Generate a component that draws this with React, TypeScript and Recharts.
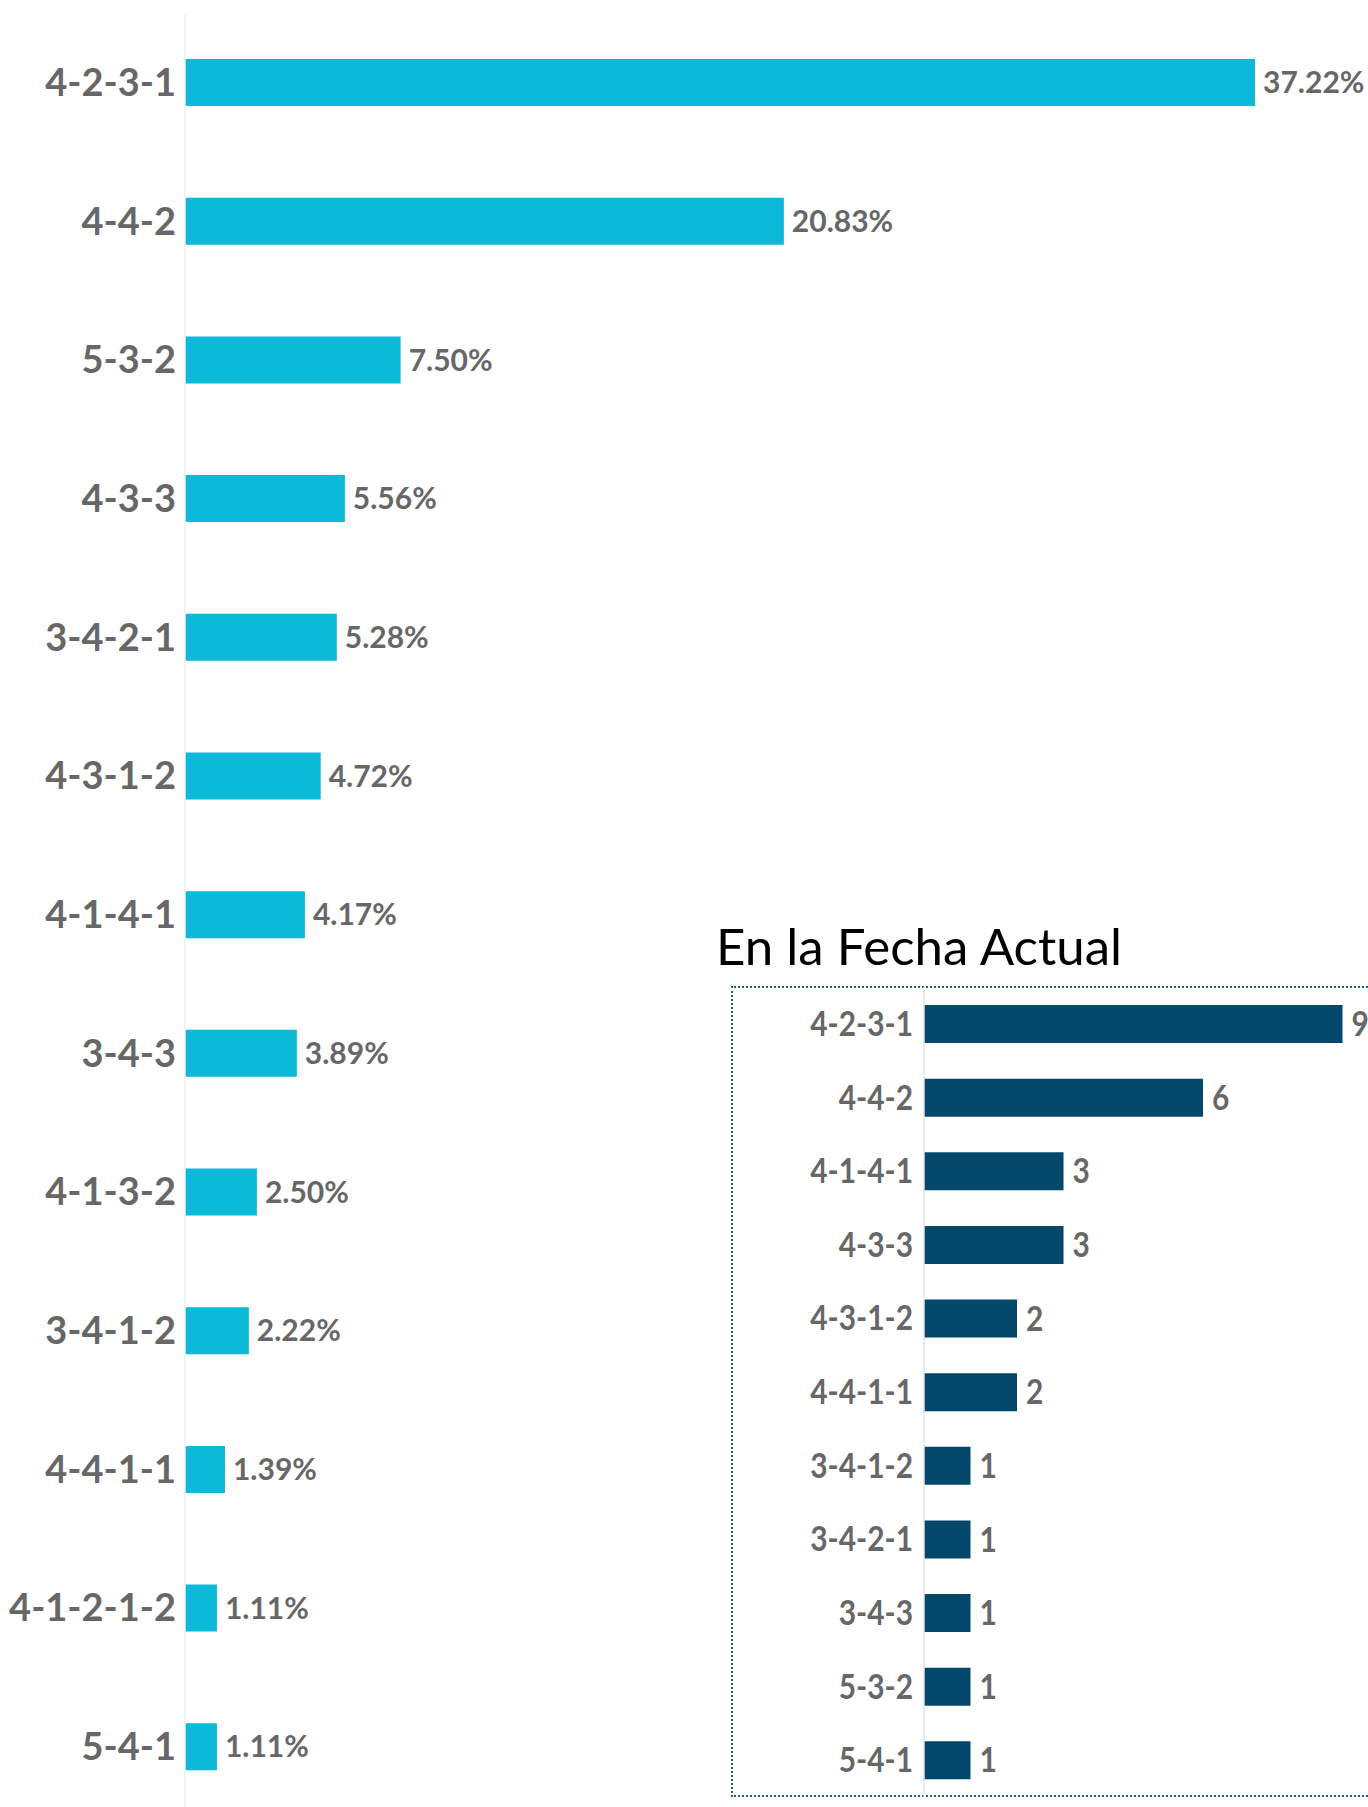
import { BarChart, Bar, XAxis, YAxis, LabelList } from 'recharts'

// formaciones más usadas (temporada) y en la fecha actual
const formaciones = ['4-2-3-1', '4-4-2', '5-3-2', '4-3-3', '3-4-2-1', '4-3-1-2', '4-1-4-1', '3-4-3', '4-1-3-2', '3-4-1-2', '4-4-1-1', '4-1-2-1-2', '5-4-1']
const porcentajes = [37.22, 20.83, 7.5, 5.56, 5.28, 4.72, 4.17, 3.89, 2.5, 2.22, 1.39, 1.11, 1.11]

const formacionesActual = ['4-2-3-1', '4-4-2', '4-1-4-1', '4-3-3', '4-3-1-2', '4-4-1-1', '3-4-1-2', '3-4-2-1', '3-4-3', '5-3-2', '5-4-1']
const equiposActual = [9, 6, 3, 3, 2, 2, 1, 1, 1, 1, 1]

const tituloInset = 'En la Fecha Actual'

const GRIS = '#676767'
const FONT = 'Lato, "Open Sans", sans-serif'

const mainData = formaciones.map((name, i) => ({ name, value: porcentajes[i] }))
const insetData = formacionesActual.map((name, i) => ({ name, value: equiposActual[i] }))

function InsetTick(props: any) {
  const { x, y, payload } = props
  return (
    <text
      transform={`translate(${x},${y}) scale(0.88,1)`}
      textAnchor="end"
      dy="0.355em"
      fill={GRIS}
      fontFamily={FONT}
      fontWeight={700}
      fontSize={34}
    >
      {payload.value}
    </text>
  )
}

function InsetLabel(props: any) {
  const { x, y, width, height, value } = props
  return (
    <text
      transform={`translate(${x + width + 9},${y + height / 2}) scale(0.88,1)`}
      dy="0.355em"
      fill={GRIS}
      fontFamily={FONT}
      fontWeight={700}
      fontSize={34}
    >
      {value}
    </text>
  )
}

export default function App() {
  return (
    <div style={{ position: 'absolute', left: 0, top: 0, width: 1368, height: 1807, overflow: 'hidden', background: '#fff' }}>
      <div style={{ position: 'absolute', left: 0, top: 0 }}>
        <BarChart width={1368} height={1816} data={mainData} layout="vertical" margin={{ top: 13, right: 33, bottom: 0, left: 0 }}>
          <XAxis type="number" hide domain={[0, 40]} />
          <YAxis
            type="category"
            dataKey="name"
            width={185}
            tickLine={false}
            tickSize={0}
            tickMargin={9}
            axisLine={{ stroke: '#efefef', strokeWidth: 1.5 }}
            tick={{ fill: GRIS, fontSize: 38, fontWeight: 700, fontFamily: FONT }}
            interval={0}
          />
          <Bar dataKey="value" fill="#0bb9d8" barSize={47} isAnimationActive={false}>
            <LabelList
              dataKey="value"
              position="right"
              offset={8}
              formatter={(v: unknown) => `${Number(v).toFixed(2)}%`}
              style={{ fill: GRIS, fontSize: 30, fontWeight: 700, fontFamily: FONT }}
            />
          </Bar>
        </BarChart>
      </div>

      <div
        style={{
          position: 'absolute', left: 716, top: 920, fontFamily: FONT, fontSize: 51, lineHeight: 1,
          color: '#000', whiteSpace: 'nowrap',
        }}
      >
        {tituloInset}
      </div>

      <div
        style={{
          position: 'absolute', left: 731, top: 986, width: 700, height: 811,
          border: '2px dotted #1d5d8a', boxSizing: 'border-box', background: '#fff',
        }}
      />

      <div style={{ position: 'absolute', left: 731, top: 987 }}>
        <BarChart width={658} height={810} data={insetData} layout="vertical" margin={{ top: 0, right: 0, bottom: 0, left: 0 }}>
          <XAxis type="number" hide domain={[0, 10]} />
          <YAxis
            type="category"
            dataKey="name"
            width={193}
            tickLine={false}
            tickSize={0}
            tickMargin={11}
            axisLine={{ stroke: '#e3e3e3', strokeWidth: 1.5 }}
            tick={<InsetTick />}
            interval={0}
          />
          <Bar dataKey="value" fill="#03476b" barSize={38} isAnimationActive={false}>
            <LabelList dataKey="value" content={<InsetLabel />} />
          </Bar>
        </BarChart>
      </div>
    </div>
  )
}
